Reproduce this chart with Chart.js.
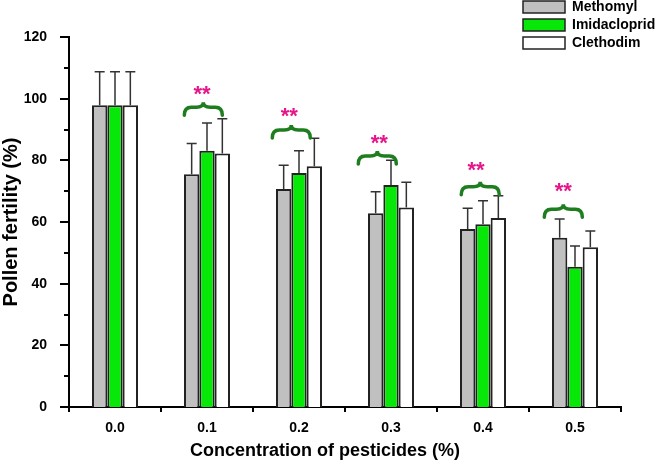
<!DOCTYPE html>
<html>
<head>
<meta charset="utf-8">
<script src="https://cdn.jsdelivr.net/npm/chart.js@4.4.1/dist/chart.umd.min.js"></script>
<style>
html,body{margin:0;padding:0;background:#fff;}
#wrap{width:658px;height:464px;}
</style>
</head>
<body>
<div id="wrap"><canvas id="c" width="658" height="464"></canvas></div>
<script>
// ---- data ----
const categories = ['0.0', '0.1', '0.2', '0.3', '0.4', '0.5'];
const seriesNames = ['Methomyl', 'Imidacloprid', 'Clethodim'];
const methomyl     = [97.9, 75.5, 70.7, 62.8, 57.7, 54.9];
const methomylSD   = [10.8, 10.0, 7.7, 7.0, 6.8, 6.1];
const imidacloprid = [97.9, 83.1, 75.9, 72.0, 59.3, 45.5];
const imidaclopridSD = [10.8, 9.0, 7.2, 8.0, 7.6, 6.7];
const clethodim    = [97.9, 82.2, 78.1, 64.7, 61.3, 51.8];
const clethodimSD  = [10.8, 11.3, 9.1, 8.2, 7.2, 5.3];
const yTicks = [0, 20, 40, 60, 80, 100, 120];
// significance annotations (value level of brace and of "**")
const braceLevel = [null, 97.2, 89.8, 81.4, 71.4, 64.1];
const starLevel  = [null, 101.2, 94.2, 85.5, 76.6, 69.8];
const braceShift = [0, -0.04, -0.084, -0.149, -0.03, -0.127];
const starShift  = [0, -0.054, -0.105, -0.127, -0.076, -0.127];
const sigLabel = '**';
const xTitle = 'Concentration of pesticides (%)';
const yTitle = 'Pollen fertility (%)';

const FONT = "'Liberation Sans', Arial, Helvetica, sans-serif";
const colors = ['#c0c0c0', '#08e808', '#ffffff'];
const values = [methomyl, imidacloprid, clethodim];
const sds = [methomylSD, imidaclopridSD, clethodimSD];

const errorBars = {
  id: 'errorBars',
  afterDatasetsDraw(chart) {
    const ctx = chart.ctx, y = chart.scales.y;
    ctx.save();
    ctx.strokeStyle = '#333';
    ctx.lineWidth = 1.5;
    chart.data.datasets.forEach((ds, di) => {
      const meta = chart.getDatasetMeta(di);
      meta.data.forEach((el, i) => {
        const top = y.getPixelForValue(ds.data[i] + ds.sd[i]);
        ctx.beginPath();
        ctx.moveTo(el.x, el.y);
        ctx.lineTo(el.x, top);
        ctx.moveTo(el.x - 5, top);
        ctx.lineTo(el.x + 5, top);
        ctx.stroke();
      });
    });
    ctx.restore();
  }
};

const decorations = {
  id: 'decorations',
  afterDraw(chart) {
    const ctx = chart.ctx, xs = chart.scales.x, ys = chart.scales.y;
    const area = chart.chartArea;
    const step = xs.getPixelForValue(1) - xs.getPixelForValue(0);
    ctx.save();
    // y ticks
    ctx.strokeStyle = '#000';
    ctx.lineWidth = 2;
    for (let v = 0; v <= 120; v += 10) {
      const py = Math.round(ys.getPixelForValue(v));
      const len = (v % 20 === 0) ? 9 : 5;
      ctx.beginPath();
      ctx.moveTo(area.left, py);
      ctx.lineTo(area.left - len, py);
      ctx.stroke();
    }
    // x ticks at category boundaries
    for (let i = 0; i <= categories.length; i++) {
      const px = xs.getPixelForValue(0) + (i - 0.5) * step;
      ctx.beginPath();
      ctx.moveTo(px, area.bottom);
      ctx.lineTo(px, area.bottom + 5);
      ctx.stroke();
    }
    // x title
    ctx.fillStyle = '#000';
    ctx.font = 'bold 18px ' + FONT;
    ctx.textAlign = 'center';
    ctx.textBaseline = 'alphabetic';
    ctx.fillText(xTitle, (area.left + area.right) / 2 - 20, 456);

    // braces and stars
    for (let i = 0; i < categories.length; i++) {
      if (braceLevel[i] == null) continue;
      const cx = xs.getPixelForValue(i) + braceShift[i] * step;
      const by = ys.getPixelForValue(braceLevel[i]);
      const hw = 19, r = 7;
      ctx.strokeStyle = '#1e7d1e';
      ctx.lineWidth = 3.5;
      ctx.lineCap = 'round';
      ctx.beginPath();
      ctx.moveTo(cx - hw, by + 8);
      ctx.quadraticCurveTo(cx - hw, by, cx - hw + r, by);
      ctx.lineTo(cx - r, by);
      ctx.quadraticCurveTo(cx, by, cx, by - 5);
      ctx.quadraticCurveTo(cx, by, cx + r, by);
      ctx.lineTo(cx + hw - r, by);
      ctx.quadraticCurveTo(cx + hw, by, cx + hw, by + 8);
      ctx.stroke();
      const sx = xs.getPixelForValue(i) + starShift[i] * step;
      const sy = ys.getPixelForValue(starLevel[i]);
      ctx.fillStyle = '#e5168a';
      ctx.font = 'bold 22px ' + FONT;
      ctx.textAlign = 'center';
      ctx.textBaseline = 'alphabetic';
      ctx.fillText(sigLabel, sx, sy + 6.5);
    }

    // legend
    ctx.lineCap = 'butt';
    chart.data.datasets.forEach((ds, di) => {
      const top = 1 + di * 18;
      ctx.fillStyle = ds.backgroundColor;
      ctx.fillRect(523, top, 42, 12);
      ctx.strokeStyle = '#222';
      ctx.lineWidth = 1.5;
      ctx.strokeRect(523, top, 42, 12);
      ctx.fillStyle = '#000';
      ctx.font = 'bold 14px ' + FONT;
      ctx.textAlign = 'left';
      ctx.textBaseline = 'middle';
      ctx.fillText(ds.label, 572, top + 6.5);
    });
    ctx.restore();
  }
};

new Chart(document.getElementById('c'), {
  type: 'bar',
  data: {
    labels: categories,
    datasets: seriesNames.map((name, k) => ({
      label: name,
      data: values[k],
      sd: sds[k],
      backgroundColor: colors[k],
      borderColor: '#222',
      borderWidth: 2,
      categoryPercentage: 0.5,
      barPercentage: 1.0
    }))
  },
  options: {
    responsive: false,
    animation: false,
    layout: { padding: { top: 37, right: 37, bottom: 0, left: 0 } },
    plugins: { legend: { display: false }, tooltip: { enabled: false } },
    scales: {
      x: {
        grid: { display: false },
        border: { display: true, color: '#000', width: 2 },
        ticks: { color: '#000', font: { family: FONT, size: 14, weight: 'bold' }, padding: 5 },
        afterFit(s) { s.height = 57; }
      },
      y: {
        min: 0, max: 120,
        grid: { display: false },
        border: { display: true, color: '#000', width: 2 },
        ticks: {
          stepSize: 20,
          color: '#000',
          font: { family: FONT, size: 14, weight: 'bold' },
          padding: 14,
          callback: (v) => yTicks.includes(v) ? String(v) : ''
        },
        title: {
          display: true, text: yTitle, color: '#000',
          font: { family: FONT, size: 20, weight: 'bold', lineHeight: 1 },
          padding: { top: 1, bottom: 0 }
        },
        afterFit(s) { s.width = 69; }
      }
    }
  },
  plugins: [errorBars, decorations]
});
</script>
</body>
</html>
